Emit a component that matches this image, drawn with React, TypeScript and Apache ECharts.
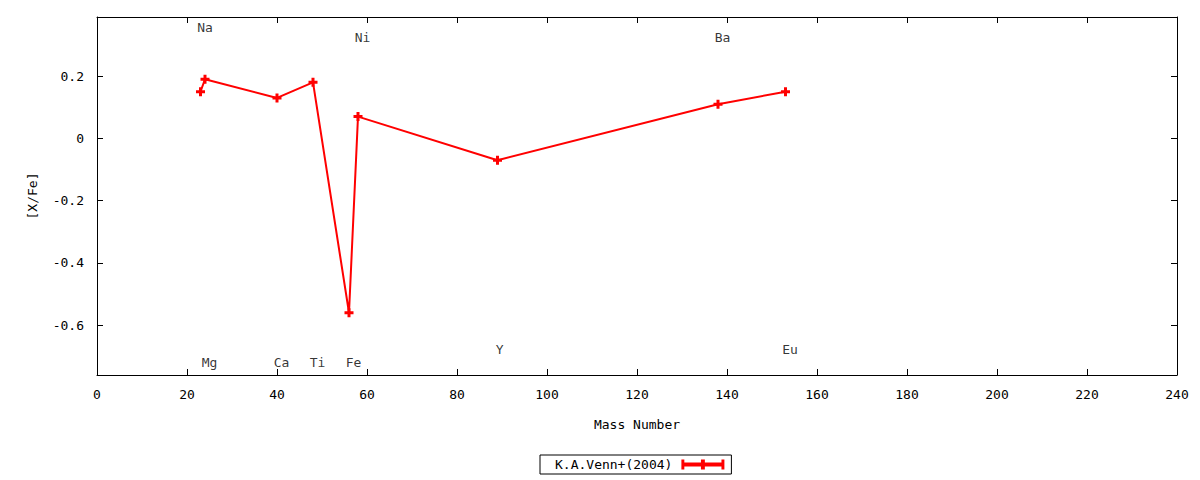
import React, { useEffect, useRef } from 'react';
import * as echarts from 'echarts';

// Venn et al. (2004) abundance pattern vs. mass number
const massNumbers = [23, 24, 40, 48, 56, 58, 89, 138, 153];
const xFe = [0.15, 0.19, 0.13, 0.18, -0.56, 0.07, -0.07, 0.11, 0.15];

// element annotations (x = mass, y = [X/Fe] position of the text)
const elementNames = ['Na', 'Mg', 'Ca', 'Ti', 'Fe', 'Ni', 'Y', 'Ba', 'Eu'];
const elementLabelX = [24, 25, 41, 49, 57, 59, 89.5, 139, 154];
const elementLabelY = [0.357, -0.72, -0.72, -0.72, -0.72, 0.325, -0.678, 0.325, -0.678];

const xTicks = [0, 20, 40, 60, 80, 100, 120, 140, 160, 180, 200, 220, 240];
const yTicks = [-0.6, -0.4, -0.2, 0, 0.2];

const seriesName = 'K.A.Venn+(2004)';
const FONT = 'DejaVu Sans Mono';

const plusSymbol = 'path://M3,0H6V3H9V6H6V9H3V6H0V3H3Z';
const legendIcon = 'path://M0,3H44V7H0Z M0,0H3V10H0Z M20,0H24V10H20Z M41,0H44V10H41Z';

export default function App() {
  const chartRef = useRef<HTMLDivElement>(null);

  useEffect(() => {
    if (!chartRef.current) return;
    document.body.style.margin = '0';
    const myChart = echarts.init(chartRef.current, null, { renderer: 'svg' });

    const axisCommon = {
      axisLine: { show: true, onZero: false, lineStyle: { color: '#000', width: 1 } },
      splitLine: { show: false },
    };

    const option = {
      animation: false,
      backgroundColor: '#fff',
      textStyle: { fontFamily: FONT },
      grid: { left: 97, right: 23, top: 17, bottom: 105 },
      legend: {
        data: [{ name: seriesName, icon: legendIcon }],
        left: 540,
        top: 455,
        align: 'right',
        itemWidth: 43,
        itemHeight: 10,
        padding: [3, 7, 3, 15],
        borderColor: '#000',
        borderWidth: 1,
        borderRadius: 0,
        selectedMode: false,
        textStyle: { fontFamily: FONT, fontSize: 13, color: '#000', padding: [0, 4, 0, 0] },
      },
      xAxis: [
        {
          ...axisCommon,
          type: 'value',
          min: 0,
          max: 240,
          interval: 20,
          name: 'Mass Number',
          nameLocation: 'middle',
          nameGap: 43,
          nameTextStyle: { fontFamily: FONT, fontSize: 13, color: '#000' },
          axisTick: { show: true, inside: true, length: 6, lineStyle: { color: '#000' } },
          axisLabel: {
            fontFamily: FONT,
            fontSize: 13,
            color: '#000',
            margin: 13,
            customValues: xTicks,
          },
        },
        {
          ...axisCommon,
          type: 'value',
          position: 'top',
          min: 0,
          max: 240,
          interval: 20,
          axisTick: { show: true, inside: true, length: 6, lineStyle: { color: '#000' } },
          axisLabel: { show: false },
        },
      ],
      yAxis: [
        {
          ...axisCommon,
          type: 'value',
          min: -0.76,
          max: 0.39,
          name: '[X/Fe]',
          nameLocation: 'middle',
          nameGap: 58,
          nameRotate: 90,
          nameTextStyle: { fontFamily: FONT, fontSize: 13, color: '#000' },
          axisTick: {
            show: true,
            inside: true,
            length: 6,
            customValues: yTicks,
            lineStyle: { color: '#000' },
          },
          axisLabel: {
            fontFamily: FONT,
            fontSize: 13,
            color: '#000',
            margin: 13,
            customValues: yTicks,
            formatter: (v: number) => (Math.abs(v) < 1e-9 ? '0' : String(Math.round(v * 10) / 10)),
          },
        },
        {
          ...axisCommon,
          type: 'value',
          position: 'right',
          min: -0.76,
          max: 0.39,
          axisTick: {
            show: true,
            inside: true,
            length: 6,
            customValues: yTicks,
            lineStyle: { color: '#000' },
          },
          axisLabel: { show: false },
        },
      ],
      series: [
        {
          name: seriesName,
          type: 'line',
          data: massNumbers.map((m, i) => [m, xFe[i]]),
          symbol: plusSymbol,
          symbolSize: 9,
          showAllSymbol: true,
          lineStyle: { color: '#ff0000', width: 2 },
          itemStyle: { color: '#ff0000' },
          z: 3,
        },
        {
          name: 'labels',
          type: 'scatter',
          data: elementNames.map((n, i) => ({ name: n, value: [elementLabelX[i], elementLabelY[i]] })),
          symbolSize: 0,
          silent: true,
          label: {
            show: true,
            position: 'inside',
            formatter: (p: any) => p.name,
            fontFamily: FONT,
            fontSize: 13,
            color: '#000',
          },
        },
      ],
    };

    myChart.setOption(option);

    return () => {
      myChart.dispose();
    };
  }, []);

  return <div ref={chartRef} style={{ width: '1200px', height: '480px' }} />;
}
